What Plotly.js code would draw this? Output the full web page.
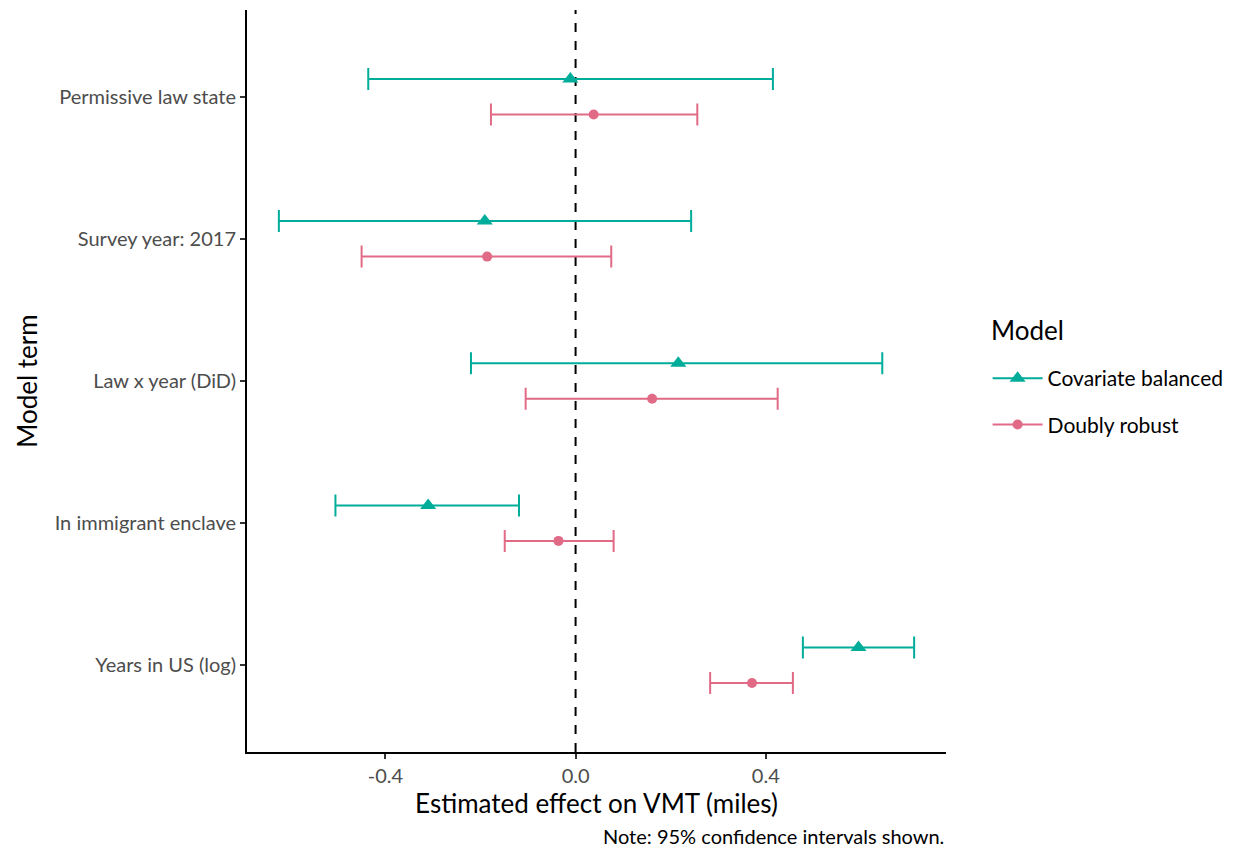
<!DOCTYPE html>
<html>
<head>
<meta charset="utf-8">
<script src="https://cdn.plot.ly/plotly-3.0.1.min.js"></script>
<style>html,body{margin:0;padding:0;background:#fff;}#chart{width:1238px;height:853px;}</style>
</head>
<body>
<div id="chart"></div>
<script>
// Terms listed bottom-to-top
const terms = ["Years in US (log)", "In immigrant enclave", "Law x year (DiD)", "Survey year: 2017", "Permissive law state"];
const models = ["Covariate balanced", "Doubly robust"];

const cbEst  = [0.595, -0.310, 0.216, -0.191, -0.011];
const cbLow  = [0.478, -0.505, -0.220, -0.624, -0.436];
const cbHigh = [0.712, -0.119, 0.645, 0.243, 0.415];

const drEst  = [0.371, -0.036, 0.161, -0.186, 0.038];
const drLow  = [0.283, -0.149, -0.105, -0.450, -0.178];
const drHigh = [0.457, 0.080, 0.425, 0.075, 0.256];

const colors = ["#00AD9A", "#E16A86"];
const symbols = ["triangle-up", "circle"];
const offsets = [0.125, -0.125];

function withGaps(arr) {
  const out = [];
  arr.forEach((v, i) => { if (i) out.push(null); out.push(v); });
  return out;
}

const series = [
  {est: cbEst, lo: cbLow, hi: cbHigh},
  {est: drEst, lo: drLow, hi: drHigh}
];

const traces = series.map((s, k) => ({
  type: "scatter",
  mode: "lines+markers",
  name: models[k],
  legendgroup: models[k],
  connectgaps: false,
  x: withGaps(s.est),
  y: withGaps(terms.map((t, i) => i + 1 + offsets[k])),
  line: {color: colors[k], width: 2},
  marker: {color: colors[k], symbol: symbols[k], size: k === 0 ? 14 : 10},
  error_x: {
    type: "data", symmetric: false,
    array: withGaps(s.hi.map((h, i) => h - s.est[i])),
    arrayminus: withGaps(s.lo.map((l, i) => s.est[i] - l)),
    color: colors[k], thickness: 2, width: 11
  },
  hoverinfo: "x+y+name"
}));

const fontFam = "Lato, 'Open Sans', sans-serif";

const layout = {
  width: 1238, height: 853,
  margin: {l: 247, r: 291, t: 10, b: 101},
  paper_bgcolor: "#fff", plot_bgcolor: "#fff",
  font: {family: fontFam, color: "#000"},
  showlegend: true,
  legend: {
    x: 1.058, y: 0.531, xanchor: "left", yanchor: "top",
    font: {size: 21, color: "#000"},
    itemwidth: 50,
    traceorder: "grouped", tracegroupgap: 16
  },
  xaxis: {
    range: [-0.691, 0.779],
    tickvals: [-0.4, 0, 0.4],
    ticktext: ["-0.4", "0.0", "0.4"],
    showgrid: false, zeroline: false,
    showline: true, linecolor: "#000", linewidth: 2,
    ticks: "outside", ticklen: 5, tickwidth: 1.5, tickcolor: "#333",
    tickfont: {size: 20, color: "#4D4D4D"},
    title: {text: "Estimated effect on VMT (miles)", font: {size: 26, color: "#000"}, standoff: 6}
  },
  yaxis: {
    range: [0.39, 5.61],
    tickvals: terms.map((t, i) => i + 1),
    ticktext: terms,
    showgrid: false, zeroline: false,
    showline: true, linecolor: "#000", linewidth: 2,
    ticks: "outside", ticklen: 5, tickwidth: 1.5, tickcolor: "#333",
    tickfont: {size: 20, color: "#4D4D4D"},
    title: {text: "Model term", font: {size: 26, color: "#000"}, standoff: 10}
  },
  shapes: [{
    type: "line", xref: "x", yref: "paper",
    x0: 0, x1: 0, y0: 0, y1: 1,
    line: {color: "#000", width: 2, dash: "dash"},
    layer: "below"
  }],
  annotations: [
    {
      text: "Model",
      xref: "paper", yref: "paper", x: 1.061, y: (752 - 330) / 742,
      xanchor: "left", yanchor: "middle", showarrow: false,
      font: {size: 26, color: "#000"}
    },
    {
      text: "Note: 95% confidence intervals shown.",
      xref: "paper", yref: "paper", x: 1.0, y: -0.113,
      xanchor: "right", yanchor: "middle", showarrow: false,
      font: {size: 20, color: "#000"}
    }
  ]
};

Plotly.newPlot("chart", traces, layout, {displayModeBar: false});
</script>
</body>
</html>
